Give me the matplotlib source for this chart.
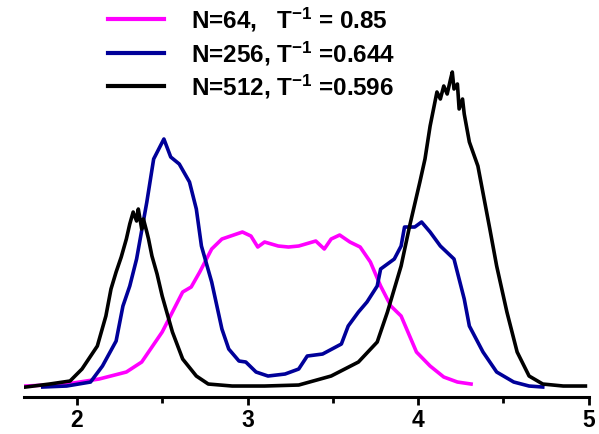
import matplotlib
matplotlib.use("Agg")
import matplotlib.pyplot as plt
import numpy as np

plt.rcParams['font.family'] = ['Liberation Sans', 'DejaVu Sans']
plt.rcParams['font.weight'] = 'bold'
plt.rcParams['mathtext.fontset'] = 'custom'
plt.rcParams['mathtext.rm'] = 'Liberation Sans:bold'
plt.rcParams['mathtext.bf'] = 'Liberation Sans:bold'
plt.rcParams['mathtext.default'] = 'bf'

# N=64 (magenta)
x64 = [1.70, 1.94, 2.13, 2.29, 2.38, 2.50, 2.62, 2.67, 2.72, 2.79, 2.85, 2.97, 3.02, 3.06,
       3.10, 3.18, 3.24, 3.30, 3.40, 3.45, 3.49, 3.54, 3.60, 3.66, 3.72, 3.78, 3.84, 3.90,
       3.99, 4.07, 4.15, 4.23, 4.31]
y64 = [1, 3, 8, 15, 25, 55, 95, 100, 115, 138, 148, 155, 151, 140,
       145, 141, 140, 141, 146, 138, 148, 152, 145, 140, 125, 101, 81, 71,
       35, 21, 10, 5, 3]

# N=256 (blue)
x256 = [1.80, 1.94, 2.08, 2.15, 2.23, 2.27, 2.31, 2.35, 2.41, 2.45, 2.51, 2.55, 2.60, 2.66,
        2.70, 2.73, 2.79, 2.85, 2.89, 2.95, 2.99, 3.05, 3.12, 3.22, 3.30, 3.35, 3.44, 3.55,
        3.59, 3.65, 3.70, 3.76, 3.78, 3.86, 3.90, 3.92, 3.98, 4.02, 4.07, 4.13, 4.21, 4.27,
        4.30, 4.38, 4.46, 4.56, 4.65, 4.73]
y256 = [0, 1, 5, 21, 46, 81, 101, 128, 185, 228, 248, 230, 223, 205,
        178, 141, 105, 58, 38, 26, 25, 15, 11, 13, 18, 31, 33, 43,
        61, 75, 85, 101, 118, 128, 141, 160, 160, 165, 155, 141, 128, 88,
        61, 35, 15, 5, 1, 0]

# N=512 (black)
x512 = [1.70, 1.84, 1.96, 2.03, 2.12, 2.17, 2.20, 2.23, 2.26, 2.29, 2.31, 2.33, 2.35, 2.36,
        2.37, 2.38, 2.39, 2.41, 2.42, 2.44, 2.47, 2.50, 2.56, 2.62, 2.70, 2.77, 2.91, 3.10,
        3.30, 3.49, 3.65, 3.76, 3.82, 3.86, 3.90, 3.95, 4.01, 4.04, 4.07, 4.09, 4.11, 4.13,
        4.15, 4.17, 4.19, 4.20, 4.21, 4.23, 4.24, 4.26, 4.27, 4.30, 4.35, 4.42, 4.46, 4.52,
        4.58, 4.65, 4.73, 4.85, 4.98]
y512 = [0, 3, 6, 18, 41, 71, 98, 115, 130, 148, 163, 175, 166, 178,
        168, 158, 168, 155, 148, 131, 113, 91, 55, 28, 11, 3, 1, 1,
        2, 11, 25, 45, 75, 98, 121, 161, 205, 228, 261, 278, 295, 288,
        301, 293, 308, 315, 298, 303, 278, 288, 273, 245, 221, 158, 121, 75,
        35, 11, 3, 1, 1]

labels = [r'N=64,   T$^{-1}$ = 0.85', r'N=256, T$^{-1}$ =0.644', r'N=512, T$^{-1}$ =0.596']

fig = plt.figure(figsize=(5.99, 4.35), dpi=100)
ax = fig.add_axes([0.040, 0.085, 0.943, 0.915])

ax.plot(x64, y64, color='#FF00FF', lw=2.6, label=labels[0])
ax.plot(x256, y256, color='#000099', lw=2.6, label=labels[1])
ax.plot(x512, y512, color='black', lw=2.6, label=labels[2])

ax.set_xlim(1.69, 5.0)
ax.set_ylim(-10, 388)
for s in ['top', 'right', 'left']:
    ax.spines[s].set_visible(False)
ax.spines['bottom'].set_linewidth(2.2)
ax.set_yticks([])
ax.set_xticks([2, 3, 4, 5])
ax.set_xticks([2.5, 3.5, 4.5], minor=True)
ax.tick_params(axis='x', which='major', length=6, width=2, labelsize=16.5, pad=2)
ax.tick_params(axis='x', which='minor', length=4, width=2)
for t in ax.get_xticklabels():
    t.set_fontweight('bold')

leg = ax.legend(loc='upper left', bbox_to_anchor=(0.11, 1.04), frameon=False,
                fontsize=17.5, handlelength=2.3, handletextpad=1.1, labelspacing=0.22)
for line in leg.get_lines():
    line.set_linewidth(3)

fig.savefig('out.png', dpi=100)
